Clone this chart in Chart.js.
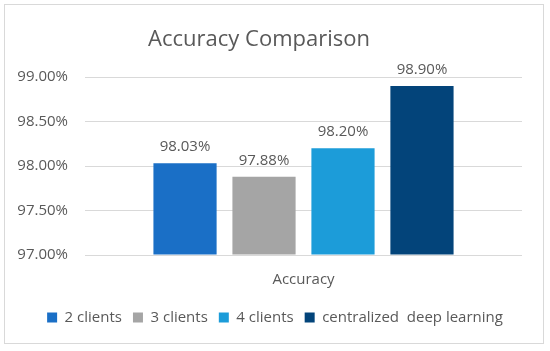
<!DOCTYPE html>
<html lang="en">
<head>
    <meta charset="UTF-8">
    <script src="https://cdn.jsdelivr.net/npm/chart.js"></script>
    <title>Accuracy Comparison</title>
    <style>
        body { margin: 0; background: #fff; }
        #moldura { position: absolute; left: 4px; top: 4px; width: 538px; height: 338px; border: 1px solid #d9d9d9; pointer-events: none; }
        #myChart { position: absolute; left: 0; top: 0; }
    </style>
</head>
<body>
    <canvas id="myChart" width="550" height="351"></canvas>
    <div id="moldura"></div>

    <script>
        // dados
        const categorias = ['Accuracy'];
        const series = ['2 clients', '3 clients', '4 clients', 'centralized  deep learning'];
        const valores = [98.03, 97.88, 98.20, 98.90];
        const cores = ['#1a6fc6', '#a5a5a5', '#1c9cd9', '#03447a'];
        const yTicks = [97, 97.5, 98, 98.5, 99];

        const cinza = '#595959';
        const fonte = "'Open Sans', sans-serif";

        // rotulos em cima das barras
        const rotulos = {
            id: 'rotulos',
            afterDatasetsDraw(chart) {
                const ctx = chart.ctx;
                ctx.save();
                ctx.fillStyle = cinza;
                ctx.font = "15px " + fonte;
                ctx.textAlign = 'center';
                ctx.textBaseline = 'alphabetic';
                chart.data.datasets.forEach(function (ds, i) {
                    const bar = chart.getDatasetMeta(i).data[0];
                    ctx.fillText(ds.data[0].toFixed(2) + '%', bar.x, bar.y - 12);
                });
                ctx.restore();
            }
        };

        // titulo um pouco a esquerda, igual ao excel
        const titulo = {
            id: 'titulo',
            afterDraw(chart) {
                const ctx = chart.ctx;
                ctx.save();
                ctx.fillStyle = cinza;
                ctx.font = "22px " + fonte;
                ctx.textAlign = 'center';
                ctx.textBaseline = 'alphabetic';
                ctx.fillText('Accuracy Comparison', 259, 46);
                ctx.restore();
            }
        };

        // legenda centrada na largura toda
        const centraLegenda = {
            id: 'centraLegenda',
            afterLayout(chart) {
                chart.legend.left = 0;
                chart.legend.right = chart.width;
            }
        };

        const dados = {
            labels: categorias,
            datasets: series.map(function (nome, i) {
                return {
                    label: nome,
                    data: [valores[i]],
                    backgroundColor: cores[i],
                    base: yTicks[0],
                    categoryPercentage: 0.723,
                    barPercentage: 0.8
                };
            })
        };

        const config = {
            type: 'bar',
            data: dados,
            plugins: [rotulos, titulo, centraLegenda],
            options: {
                responsive: false,
                animation: false,
                devicePixelRatio: 1,
                layout: {
                    padding: { left: 10, right: 28, top: 77, bottom: 16 }
                },
                scales: {
                    y: {
                        min: yTicks[0],
                        max: yTicks[yTicks.length - 1],
                        afterBuildTicks: function (scale) {
                            scale.ticks = yTicks.map(function (v) { return { value: v }; });
                        },
                        afterFit: function (scale) {
                            scale.width = 75;
                        },
                        ticks: {
                            color: cinza,
                            padding: 17,
                            font: { family: fonte, size: 15 },
                            callback: function (v) { return Number(v).toFixed(2) + '%'; }
                        },
                        grid: { color: '#d9d9d9', drawTicks: false },
                        border: { display: false }
                    },
                    x: {
                        afterFit: function (scale) {
                            scale.height = 44;
                        },
                        ticks: {
                            color: cinza,
                            padding: 8,
                            font: { family: fonte, size: 15 }
                        },
                        grid: { display: false },
                        border: { display: false }
                    }
                },
                plugins: {
                    legend: {
                        position: 'bottom',
                        labels: {
                            color: cinza,
                            boxWidth: 10,
                            boxHeight: 10,
                            padding: 11,
                            font: { family: fonte, size: 15 }
                        }
                    },
                    tooltip: { enabled: false }
                }
            }
        };

        let ctx = document.getElementById('myChart').getContext('2d');
        let myChart = new Chart(ctx, config);
    </script>
</body>
</html>
